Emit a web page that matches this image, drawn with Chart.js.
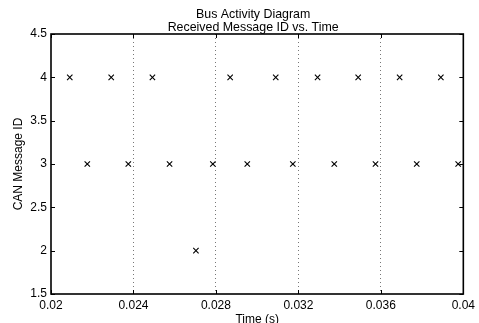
<!DOCTYPE html>
<html>
<head>
<meta charset="utf-8">
<script src="https://cdn.jsdelivr.net/npm/chart.js@4/dist/chart.umd.min.js"></script>
<style>
  html, body { margin: 0; padding: 0; background: #fff; }
  #wrap { width: 479px; height: 323px; position: relative; }
</style>
</head>
<body>
<div id="wrap"><canvas id="c"></canvas></div>
<script>
// ---- data ----
const titleLines = ['Bus Activity Diagram', 'Received Message ID vs. Time'];
const xLabel = 'Time (s)';
const yLabel = 'CAN Message ID';
const xTicks = [0.02, 0.024, 0.028, 0.032, 0.036, 0.04];
const xTickLabels = ['0.02', '0.024', '0.028', '0.032', '0.036', '0.04'];
const yTicks = [1.5, 2, 2.5, 3, 3.5, 4, 4.5];
const yTickLabels = ['1.5', '2', '2.5', '3', '3.5', '4', '4.5'];
const timesId4 = [0.02091, 0.02292, 0.02492, 0.02869, 0.03090, 0.03293, 0.03490, 0.03691, 0.03891];
const timesId3 = [0.02176, 0.02375, 0.02575, 0.02785, 0.02952, 0.03173, 0.03374, 0.03574, 0.03774, 0.03975];
const timesId2 = [0.02703];
const ids = [4, 3, 2];
const timeSeries = [timesId4, timesId3, timesId2];

const FONT = "'Liberation Sans', Arial, Helvetica, sans-serif";

const datasets = ids.map((id, i) => ({
  label: 'ID ' + id,
  data: timeSeries[i].map(t => ({ x: t, y: id })),
  pointStyle: 'crossRot',
  pointRadius: 3.8,
  pointBorderWidth: 1.1,
  borderColor: '#000',
  backgroundColor: '#000',
  showLine: false
}));

const framePlugin = {
  id: 'frame',
  afterDraw(chart) {
    const { ctx, chartArea: a, scales } = chart;
    ctx.save();
    ctx.strokeStyle = '#000';
    ctx.lineWidth = 1;
    const tl = 4;
    ctx.beginPath();
    xTicks.forEach(v => {
      const px = Math.round(scales.x.getPixelForValue(v)) + 0.5;
      ctx.moveTo(px, a.bottom); ctx.lineTo(px, a.bottom - tl);
      ctx.moveTo(px, a.top); ctx.lineTo(px, a.top + tl);
    });
    yTicks.forEach(v => {
      const py = Math.round(scales.y.getPixelForValue(v)) + 0.5;
      ctx.moveTo(a.left, py); ctx.lineTo(a.left + tl, py);
      ctx.moveTo(a.right, py); ctx.lineTo(a.right - tl, py);
    });
    ctx.stroke();
    ctx.lineWidth = 1.6;
    ctx.strokeRect(a.left, a.top, a.right - a.left, a.bottom - a.top);
    ctx.fillStyle = '#000';
    ctx.font = '12.4px ' + FONT;
    ctx.textAlign = 'center';
    ctx.textBaseline = 'middle';
    const cx = (a.left + a.right) / 2 - 4;
    ctx.fillText(titleLines[0], cx, 15);
    ctx.fillText(titleLines[1], cx, 28);
    ctx.restore();
  }
};

new Chart(document.getElementById('c'), {
  type: 'scatter',
  data: { datasets },
  options: {
    responsive: true,
    maintainAspectRatio: false,
    animation: false,
    layout: { padding: { top: 34, right: 12, left: 0, bottom: 0 } },
    plugins: { legend: { display: false }, tooltip: { enabled: false }, title: { display: false } },
    scales: {
      x: {
        type: 'linear',
        min: xTicks[0],
        max: xTicks[xTicks.length - 1],
        afterBuildTicks: s => { s.ticks = xTicks.map(v => ({ value: v })); },
        afterFit: s => { s.height = 29; },
        ticks: {
          color: '#000',
          font: { family: FONT, size: 12 },
          padding: 4,
          maxRotation: 0,
          autoSkip: false,
          callback: (v, i) => xTickLabels[i]
        },
        grid: {
          drawTicks: false,
          color: ctx => (ctx.index === 0 || ctx.index === xTicks.length - 1) ? 'rgba(0,0,0,0)' : '#777',
          lineWidth: 1
        },
        border: { display: false, dash: [1, 3] },
        title: {
          display: true,
          text: xLabel,
          color: '#000',
          font: { family: FONT, size: 12 },
          padding: { top: 0, bottom: -4 }
        }
      },
      y: {
        type: 'linear',
        min: yTicks[0],
        max: yTicks[yTicks.length - 1],
        afterBuildTicks: s => { s.ticks = yTicks.map(v => ({ value: v })); },
        afterFit: s => { s.width = 51; },
        ticks: {
          color: '#000',
          font: { family: FONT, size: 12 },
          padding: 4,
          autoSkip: false,
          callback: (v, i) => yTickLabels[i]
        },
        grid: { display: false, drawTicks: false },
        border: { display: false },
        title: {
          display: true,
          text: yLabel,
          color: '#000',
          font: { family: FONT, size: 12 },
          padding: { top: 11, bottom: 0 }
        }
      }
    }
  },
  plugins: [framePlugin]
});
</script>
</body>
</html>
